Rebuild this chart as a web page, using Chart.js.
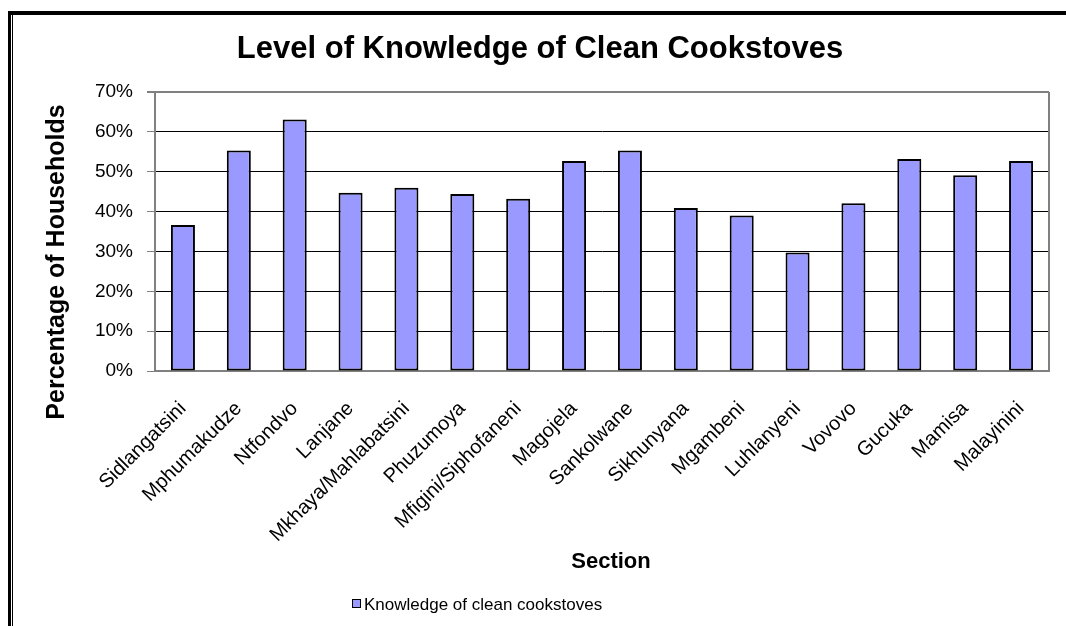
<!DOCTYPE html>
<html>
<head>
<meta charset="utf-8">
<script src="https://cdn.jsdelivr.net/npm/chart.js@4/dist/chart.umd.min.js"></script>
<style>
  html, body { margin: 0; padding: 0; background: #fff; }
  #wrap { width: 1066px; height: 626px; position: relative; }
</style>
</head>
<body>
<div id="wrap"><canvas id="chart" width="1066" height="626"></canvas></div>
<script>
// Sections surveyed
const sections = [
  'Sidlangatsini', 'Mphumakudze', 'Ntfondvo', 'Lanjane', 'Mkhaya/Mahlabatsini',
  'Phuzumoya', 'Mfigini/Siphofaneni', 'Magojela', 'Sankolwane', 'Sikhunyana',
  'Mgambeni', 'Luhlanyeni', 'Vovovo', 'Gucuka', 'Mamisa', 'Malayinini'
];
// Share of households aware of clean cookstoves (%)
const knowledgePct = [36.6, 55.3, 63.1, 44.7, 46.0, 44.4, 43.2, 52.7, 55.3, 40.9, 39.0, 29.7, 42.1, 53.2, 49.1, 52.7];
// Percentage axis ticks
const yTicks = [0, 10, 20, 30, 40, 50, 60, 70];

const chartTitle = 'Level of Knowledge of Clean Cookstoves';
const yTitle = 'Percentage of Households';
const xTitle = 'Section';
const seriesName = 'Knowledge of clean cookstoves';

const FONT = '"Liberation Sans", Arial, sans-serif';
const BAR_FILL = '#9999FF';
const AXIS_GRAY = '#808080';

// Titles, legend, page frame and the plot-area right edge
const decorations = {
  id: 'decorations',
  afterDraw(chart) {
    const ctx = chart.ctx;
    const area = chart.chartArea;
    ctx.save();

    // right edge of the plot area
    ctx.strokeStyle = AXIS_GRAY;
    ctx.lineWidth = 2;
    ctx.beginPath();
    ctx.moveTo(area.right, area.top);
    ctx.lineTo(area.right, area.bottom);
    ctx.stroke();

    // outer frame (top and double left rule)
    ctx.fillStyle = '#000';
    ctx.fillRect(8, 11, 1058, 4);
    ctx.fillRect(8, 11, 3, 615);
    ctx.fillRect(12, 15, 1, 611);

    // chart title
    ctx.fillStyle = '#000';
    ctx.textAlign = 'center';
    ctx.textBaseline = 'alphabetic';
    ctx.font = 'bold 31px ' + FONT;
    ctx.fillText(chartTitle, 540, 58);

    // x axis title
    ctx.font = 'bold 22px ' + FONT;
    ctx.fillText(xTitle, 611, 568);

    // y axis title
    ctx.save();
    ctx.translate(57, 262);
    ctx.rotate(-Math.PI / 2);
    ctx.textBaseline = 'middle';
    ctx.font = 'bold 25px ' + FONT;
    ctx.fillText(yTitle, 0, 0);
    ctx.restore();

    // legend
    const ds = chart.data.datasets[0];
    ctx.fillStyle = ds.backgroundColor;
    ctx.fillRect(352, 599, 9, 9);
    ctx.strokeStyle = '#000';
    ctx.lineWidth = 1;
    ctx.strokeRect(352.5, 599.5, 8, 8);
    ctx.fillStyle = '#000';
    ctx.textAlign = 'left';
    ctx.textBaseline = 'alphabetic';
    ctx.font = '17px ' + FONT;
    ctx.fillText(ds.label, 364, 610);

    ctx.restore();
  }
};

new Chart(document.getElementById('chart'), {
  type: 'bar',
  data: {
    labels: sections,
    datasets: [{
      label: seriesName,
      data: knowledgePct,
      backgroundColor: BAR_FILL,
      borderColor: '#000',
      borderWidth: 2,
      borderSkipped: false,
      barPercentage: 0.43,
      categoryPercentage: 1.0
    }]
  },
  options: {
    responsive: false,
    animation: false,
    devicePixelRatio: 1,
    layout: { padding: { left: 0, top: 92, right: 17, bottom: 0 } },
    plugins: {
      legend: { display: false },
      title: { display: false },
      tooltip: { enabled: false }
    },
    scales: {
      x: {
        offset: true,
        grid: { display: false, drawTicks: false },
        border: { display: true, color: AXIS_GRAY, width: 2 },
        ticks: {
          color: '#000',
          font: { family: FONT, size: 20 },
          minRotation: 45,
          maxRotation: 45,
          padding: 26,
          autoSkip: false
        },
        afterFit(scale) { scale.height = 255; }
      },
      y: {
        min: 0,
        max: 70,
        afterBuildTicks(scale) { scale.ticks = yTicks.map(v => ({ value: v })); },
        grid: {
          color: c => (c.tick && (c.tick.value === 70 || c.tick.value === 0)) ? AXIS_GRAY : '#000',
          lineWidth: c => (c.tick && c.tick.value === 70) ? 2 : 1,
          tickColor: AXIS_GRAY,
          tickLength: 8,
          drawTicks: true
        },
        border: { display: true, color: AXIS_GRAY, width: 2 },
        ticks: {
          color: '#000',
          font: { family: FONT, size: 19 },
          padding: 14,
          callback: v => v + '%'
        },
        afterFit(scale) { scale.width = 155; }
      }
    }
  },
  plugins: [decorations]
});
</script>
</body>
</html>
